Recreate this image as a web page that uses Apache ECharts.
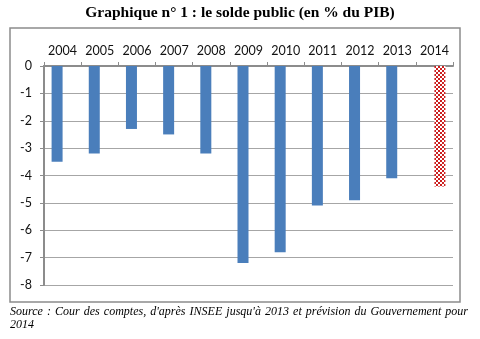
<!DOCTYPE html>
<html>
<head>
<meta charset="utf-8">
<script src="https://cdn.jsdelivr.net/npm/echarts@6/dist/echarts.min.js"></script>
<style>
html,body{margin:0;padding:0;background:#fff;}
#chart{width:480px;height:339px;}
</style>
</head>
<body>
<div id="chart"></div>
<script>
var categories = ['2004','2005','2006','2007','2008','2009','2010','2011','2012','2013','2014'];
var observed = [-3.5,-3.2,-2.3,-2.5,-3.2,-7.2,-6.8,-5.1,-4.9,-4.1,null];
var forecast = [null,null,null,null,null,null,null,null,null,null,-4.4];
var yTicks = [0,-1,-2,-3,-4,-5,-6,-7,-8];

var titleText = 'Graphique n° 1 : le solde public (en % du PIB)';
var sourceLine1 = "Source : Cour des comptes, d'après INSEE jusqu'à 2013 et prévision du Gouvernement pour";
var sourceLine2 = '2014';

// checkered pattern
var pc = document.createElement('canvas');
pc.width = 4; pc.height = 4;
var pctx = pc.getContext('2d');
pctx.fillStyle = '#ffffff'; pctx.fillRect(0,0,4,4);
pctx.fillStyle = '#cc1f1f';
pctx.fillRect(0,0,2,2); pctx.fillRect(2,2,2,2);

// justified source line (word placement by measuring text)
var srcFont = 'italic 12px "Liberation Serif", "Times New Roman", serif';
var mc = document.createElement('canvas').getContext('2d');
mc.font = srcFont;
var words = sourceLine1.split(' ');
var lineLeft = 10, lineWidth = 458;
var totalW = 0;
words.forEach(function(w){ totalW += mc.measureText(w).width; });
var gap = (lineWidth - totalW) / (words.length - 1);
var srcGraphics = [];
var cx = lineLeft;
words.forEach(function(w){
  srcGraphics.push({type:'text', x:cx, y:306, silent:true,
    style:{text:w, font:srcFont, fill:'#000', textVerticalAlign:'top'}});
  cx += mc.measureText(w).width + gap;
});
srcGraphics.push({type:'text', x:lineLeft, y:319, silent:true,
  style:{text:sourceLine2, font:srcFont, fill:'#000', textVerticalAlign:'top'}});

var chart = echarts.init(document.getElementById('chart'), null, {renderer:'canvas'});
var labelFont = 'Lato, "Noto Sans", sans-serif';
chart.setOption({
  animation:false,
  backgroundColor:'#ffffff',
  grid:{left:44, right:27, top:66, bottom:54, containLabel:false},
  xAxis:{
    type:'category', position:'top', data:categories, boundaryGap:true,
    axisLine:{show:true, onZero:false, lineStyle:{color:'#8c8c8c', width:2}},
    axisTick:{show:true, inside:false, length:4, alignWithLabel:false, lineStyle:{color:'#8c8c8c', width:1}},
    axisLabel:{color:'#111', fontSize:12.5, fontFamily:labelFont, margin:9, interval:0},
    splitLine:{show:false}
  },
  yAxis:{
    type:'value', min:-8, max:0, interval:1,
    axisLine:{show:true, lineStyle:{color:'#8c8c8c', width:2}},
    axisTick:{show:true, length:4, lineStyle:{color:'#8c8c8c', width:1}},
    axisLabel:{color:'#111', fontSize:12.5, fontFamily:labelFont, margin:12,
      formatter:function(v){ return yTicks.indexOf(v) >= 0 ? String(v) : ''; }},
    splitLine:{show:true, lineStyle:{color:'#a6a6a6', width:1}}
  },
  series:[
    {type:'bar', data:observed, barWidth:11, barGap:'0%',
     itemStyle:{color:'#4a7ebb'}},
    {type:'bar', data:forecast, barWidth:11, barGap:'0%',
     itemStyle:{color:{image:pc, repeat:'repeat'}}}
  ],
  graphic:[
    {type:'rect', shape:{x:10, y:28, width:450, height:274},
     style:{fill:'none', stroke:'#8c8c8c', lineWidth:1.5}, z:-1, silent:true},
    {type:'text', left:'center', top:5,
     style:{text:titleText, font:'bold 15.5px "Liberation Serif", "Times New Roman", serif', fill:'#000'}}
  ].concat(srcGraphics)
});
</script>
</body>
</html>
